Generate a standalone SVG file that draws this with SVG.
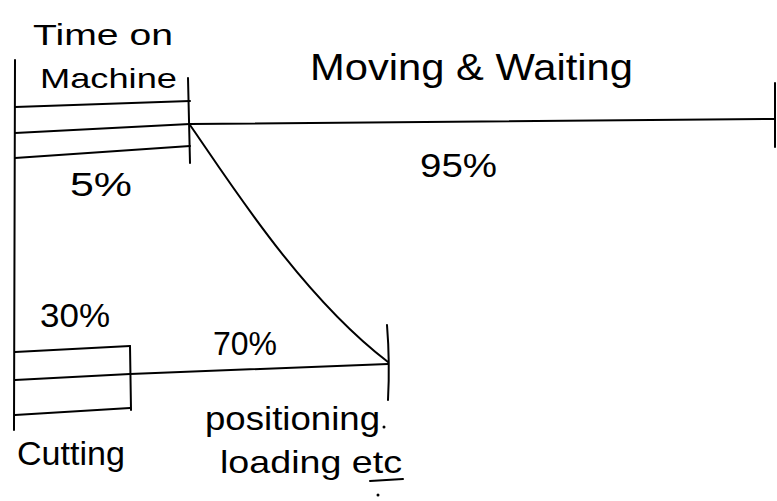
<svg xmlns="http://www.w3.org/2000/svg" width="777" height="501" viewBox="0 0 777 501">
<style>
.ln{fill:none;stroke:#000;stroke-width:2;stroke-linecap:round;stroke-linejoin:round}
.t{font-family:"Liberation Sans","DejaVu Sans",sans-serif;fill:#000}
</style>
<rect width="777" height="501" fill="#fff"/>
<g id="axis">
<path class="ln" d="M15,60 L14,430"/>
</g>
<g id="machine-bar">
<path class="ln" d="M15,107 L190,101"/>
<path class="ln" d="M15,133 L190,124"/>
<path class="ln" d="M15,158 L190,146"/>
<path class="ln" d="M188,78 L190,163"/>
</g>
<g id="cutting-bar">
<path class="ln" d="M15,352 L130,346"/>
<path class="ln" d="M15,380 L130,374"/>
<path class="ln" d="M15,415 L130,408"/>
<path class="ln" d="M130,346 L131,410"/>
</g>
<g id="connectors">
<path class="ln" d="M190,124 L775,119"/>
<path class="ln" d="M775,83 L775,147"/>
<path class="ln" d="M190,125 C225,175 300,295 388,362"/>
<path class="ln" d="M130,374 L388,364"/>
<path class="ln" d="M387,325 Q390,362 388,400"/>
</g>
<g id="labels">
<text class="t" x="33" y="45" font-size="30" textLength="140" lengthAdjust="spacingAndGlyphs">Time on</text>
<text class="t" x="40" y="88" font-size="28" textLength="137" lengthAdjust="spacingAndGlyphs">Machine</text>
<text class="t" x="70" y="196" font-size="34" textLength="62" lengthAdjust="spacingAndGlyphs">5%</text>
<text class="t" x="310" y="80" font-size="36" textLength="323" lengthAdjust="spacingAndGlyphs">Moving &amp; Waiting</text>
<text class="t" x="420" y="177" font-size="33" textLength="77" lengthAdjust="spacingAndGlyphs">95%</text>
<text class="t" x="40" y="327" font-size="33" textLength="70" lengthAdjust="spacingAndGlyphs">30%</text>
<text class="t" x="213" y="355" font-size="33" textLength="64" lengthAdjust="spacingAndGlyphs">70%</text>
<text class="t" x="17" y="465" font-size="34" textLength="108" lengthAdjust="spacingAndGlyphs">Cutting</text>
<text class="t" x="205" y="430" font-size="34" textLength="175" lengthAdjust="spacingAndGlyphs">positioning</text>
<text class="t" x="220" y="473" font-size="32" textLength="182" lengthAdjust="spacingAndGlyphs">loading etc</text>
<path class="ln" d="M370,481 L403,479"/>
<circle cx="378" cy="495" r="1.5"/>
<circle cx="384" cy="427" r="1.5"/>
</g>
</svg>
